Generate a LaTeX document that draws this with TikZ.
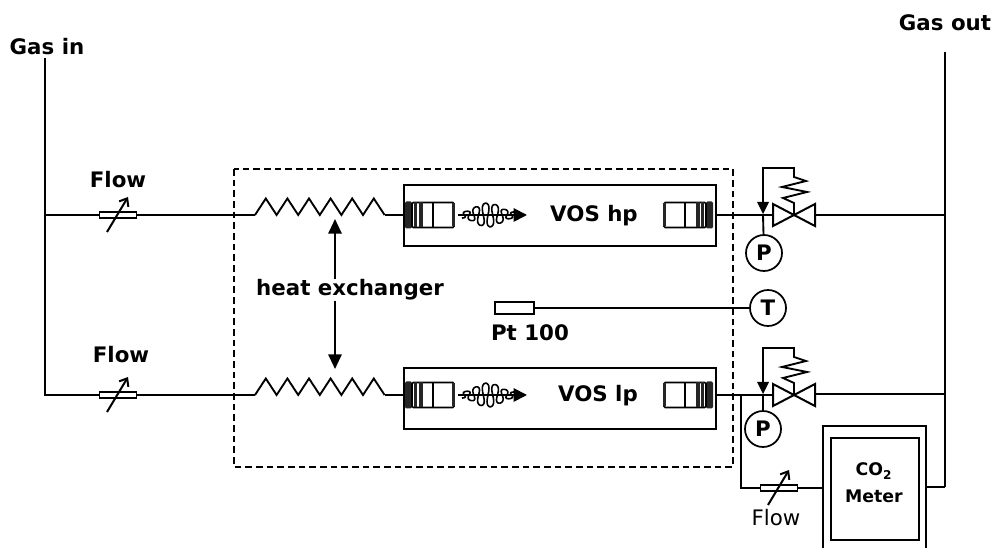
\documentclass[tikz,border=0pt]{standalone}
\usepackage{fontspec}
\setmainfont{DejaVu Sans}
\usetikzlibrary{arrows.meta,calc}
\tikzset{
  pipe/.style={line width=1.7pt,line join=miter},
  thin pipe/.style={line width=1.4pt},
  lbl/.style={font=\bfseries\fontsize{16pt}{18pt}\selectfont,inner sep=0pt},
  gauge/.style={circle,draw,line width=1.3pt,minimum size=27pt,inner sep=0pt,fill=white,font=\bfseries\fontsize{16pt}{18pt}\selectfont},
  dbl/.style={-{Triangle[length=11pt,width=10pt]},line width=1.5pt},
  pics/sensor/.style={code={
    \draw[line width=1pt,fill=white] (-18.5,-3) rectangle (18.5,3);
    \draw[line width=1.5pt,-{Straight Barb[length=5pt,width=8pt]}] (-11,17) -- (10,-18);
  }},
  pics/zig/.style={code={
    \draw[thin pipe,line join=miter] (0,0)
      \foreach \i in {0,...,5}{ -- ++(10.8,-16.5) -- ++(10.8,16.5)};
  }},
  pics/fitting/.style={code={
    \fill[black!85,rounded corners=1pt] (0,-13.5) rectangle (7,13.5);
    \draw[line width=1.2pt,fill=white,rounded corners=1pt] (7,-12.5) rectangle (49,12.5);
    \fill[black!85] (9,-12.5) rectangle (12,12.5);
    \fill[black!85] (13.5,-12.5) rectangle (17.5,12.5);
    \draw[line width=1.1pt] (28,-12.5) -- (28,12.5);
    \fill[black!85] (47,-11.5) rectangle (50,11.5);
  }},
  pics/coil/.style={code={
    \draw[line width=1.2pt] plot[smooth,samples=200,domain=0:1,variable=\t]
      ({4+52*\t+2*sin(\t*3960)},{(3+9*sin(180*\t)*sin(180*\t))*cos(\t*1980)});
    \draw[line width=1.4pt,-{Triangle[length=10pt,width=10pt]}] (0,0) -- (69,0);
  }},
  pics/valve/.style={code={
    \draw[line width=1.5pt,fill=white] (-21,-11) -- (0,0) -- (-21,11) -- cycle;
    \draw[line width=1.5pt,fill=white] (21,-11) -- (0,0) -- (21,11) -- cycle;
    \draw[line width=1.4pt] (0,0) -- (0,-12) -- (-11,-17) -- (13,-23) -- (-12,-28) -- (12,-34) -- (0,-38) -- (0,-47) -- (-31,-47) -- (-31,-12);
    \fill (-37,-13) -- (-25,-13) -- (-31,-1) -- cycle;
  }}
}
\begin{document}
\begin{tikzpicture}[x=0.75pt,y=-0.75pt]
\useasboundingbox (0,0) rectangle (996,548);
% dashed enclosure
\draw[line width=1.3pt,dash pattern=on 5pt off 3pt] (234,169) rectangle (733,467);
% boxes
\node[draw,line width=1.6pt,minimum width=234pt,minimum height=46pt,inner sep=0pt,anchor=north west] (hp) at (403,184) {};
\node[draw,line width=1.6pt,minimum width=234pt,minimum height=46pt,inner sep=0pt,anchor=north west] (lp) at (403,367) {};
\node[lbl] (hpt) at (594,216) {VOS hp};
\node[lbl] (lpt) at (598,396) {VOS lp};
% coordinates
\coordinate (inT) at (45,58);
\coordinate (inM) at (45,215);
\coordinate (inB) at (45,395);
\coordinate (s1) at (118,215);
\coordinate (s2) at (118,395);
\coordinate (z1) at (255,215);
\coordinate (z1e) at (385,215);
\coordinate (z2) at (255,395);
\coordinate (z2e) at (385,395);
\coordinate (v1) at (794,215);
\coordinate (v2) at (794,395);
\coordinate (outT) at (945,52);
\coordinate (out1) at (945,215);
\coordinate (out2) at (945,394);
\coordinate (out3) at (945,487);
\coordinate (br) at (741,395);
\coordinate (brb) at (741,488);
\coordinate (s3) at (779,488);
% main pipes
\draw[pipe] (inT) -- (inB) -- (s2);
\draw[pipe] (inM) -- (s1);
\draw[pipe] (s1) -- (z1);
\draw[pipe] (s2) -- (z2);
\draw[thin pipe] (z1e) -- (hp.west |- z1e);
\draw[thin pipe] (z2e) -- (lp.west |- z2e);
\draw[pipe] (hp.east |- v1) -- (v1);
\draw[pipe] (lp.east |- v2) -- (v2);
\draw[pipe] ($(v1)+(21,0)$) -- (out1);
\draw[pipe] ($(v2)+(21,-1)$) -- (out2);
\draw[pipe] (outT) -- (out3);
\draw[pipe] (br) -- (brb) -- (s3);
% zigzags
\pic at (z1) {zig};
\pic at (z2) {zig};
% sensors
\pic at (s1) {sensor};
\pic at (s2) {sensor};
% meter
\draw[line width=1.6pt] (823,548) -- (823,426) -- (926,426) -- (926,548);
\node[draw,line width=1.6pt,minimum width=66pt,minimum height=76.5pt,inner sep=0pt,anchor=north west] (meter) at (830,437) {};
\node[align=center,inner sep=0pt,font=\bfseries\fontsize{13pt}{20pt}\selectfont] (metert) at (874,483) {CO\textsubscript{2}\\Meter};
\draw[pipe] (s3) -- (823,488);
\draw[pipe] (926,487) -- (out3);
\pic at (s3) {sensor};
\node[inner sep=0pt,font=\fontsize{16pt}{18pt}\selectfont] (flowc) at (776,518) {Flow};
% fittings and coils
\pic at (405,215) {fitting};
\pic[xscale=-1] at (713,215) {fitting};
\pic at (458,215) {coil};
\pic at (405,395) {fitting};
\pic[xscale=-1] at (713,395) {fitting};
\pic at (458,395) {coil};
% valves
\pic at (v1) {valve};
\pic at (v2) {valve};
% gauges
\node[gauge] (P1) at (764,253) {P};
\node[gauge] (P2) at (763,429) {P};
\node[gauge] (T) at (768,308) {T};
\draw[thin pipe] (763,215) -- (P1);
\draw[thin pipe] (763,395) -- (P2);
% Pt 100
\node[draw,line width=1.3pt,minimum width=29pt,minimum height=9pt,inner sep=0pt] (pt) at (514.5,308) {};
\draw[thin pipe] (pt) -- (T);
\node[lbl] (ptt) at (530,333) {Pt 100};
% heat exchanger
\node[lbl] (he) at (350,290) {heat exchanger};
\coordinate (heT) at (335,219);
\coordinate (heB) at (335,369);
\draw[dbl] (he.north -| heT) -- (heT);
\draw[dbl] (he.south -| heB) -- (heB);
% labels
\node[lbl] (gi) at (47,47) {Gas in};
\node[lbl] (go) at (945,23) {Gas out};
\node[lbl] (f1) at (118,180) {Flow};
\node[lbl] (f2) at (121,355) {Flow};
\end{tikzpicture}
\end{document}
